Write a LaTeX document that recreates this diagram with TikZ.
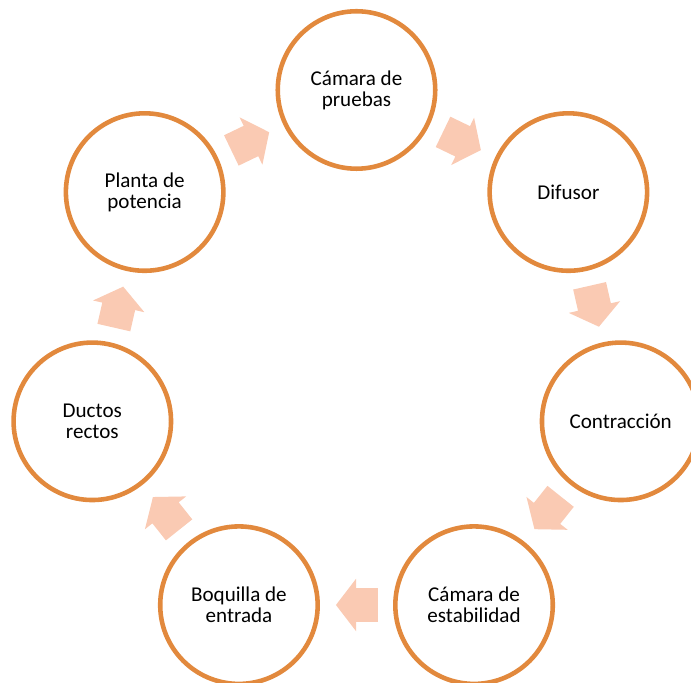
\documentclass[tikz,border=0pt]{standalone}
\usepackage{fontspec}
\setmainfont{Carlito}
\usetikzlibrary{shapes.arrows}
\definecolor{ringorange}{RGB}{226,137,61}
\definecolor{peach}{RGB}{250,202,179}
\tikzset{
  stage/.style={circle, draw=ringorange, line width=2.6pt, fill=white, minimum size=3.15cm,
    inner sep=0pt, align=center, font=\fontsize{12}{12}\selectfont},
  flow/.style={single arrow, fill=peach, draw=none, inner xsep=0pt, inner ysep=0.33cm,
    minimum height=0.84cm, minimum width=1.04cm, single arrow head extend=0.19cm,
    single arrow tip angle=105, anchor=tip}
}
\begin{document}
\begin{tikzpicture}[x=0.02cm, y=0.02cm]
  \clip (0,0) rectangle (691,683);
  \useasboundingbox (0,0) rectangle (691,683);
  \begin{scope}[shift={(356.5,322)}]
    \node[stage] (camara)      at (90:271)      {Cámara de\\pruebas};
    \node[stage] (difusor)     at (38.57:271)   {Difusor};
    \node[stage] (contraccion) at (-12.86:271)  {Contracción};
    \node[stage] (estabilidad) at (-64.29:271)  {Cámara de\\estabilidad};
    \node[stage] (boquilla)    at (-115.71:271) {Boquilla de\\entrada};
    \node[stage] (ductos)      at (-167.14:271) {Ductos\\rectos};
    \node[stage] (planta)      at (141.43:271)  {Planta de\\potencia};
    % flechas del ciclo (puntas)
    \node[flow, rotate=-25.71]  (f1) at (59.37:244.9)   {};
    \node[flow, rotate=-77.14]  (f2) at (7.94:244.9)    {};
    \node[flow, rotate=-128.57] (f3) at (-43.49:244.9)  {};
    \node[flow, rotate=180]     (f4) at (-94.92:244.9)  {};
    \node[flow, rotate=128.57]  (f5) at (-146.35:244.9) {};
    \node[flow, rotate=77.14]   (f6) at (162.22:244.9)  {};
    \node[flow, rotate=25.71]   (f7) at (110.79:244.9)  {};
  \end{scope}
\end{tikzpicture}
\end{document}
